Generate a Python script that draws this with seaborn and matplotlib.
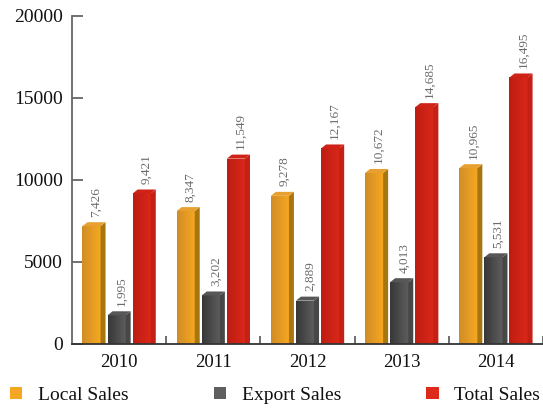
import numpy as np
import pandas as pd
import matplotlib
matplotlib.use("Agg")
import matplotlib.pyplot as plt
from matplotlib.patches import Polygon, Patch
import matplotlib.colors as mcolors
import seaborn as sns

years = ["2010", "2011", "2012", "2013", "2014"]
series = ["Local Sales", "Export Sales", "Total Sales"]
local_sales = [7426, 8347, 9278, 10672, 10965]
export_sales = [1995, 3202, 2889, 4013, 5531]
total_sales = [9421, 11549, 12167, 14685, 16495]
y_ticks = [0, 5000, 10000, 15000, 20000]

legend_colors = ["#F5A623", "#5F5F5F", "#DD2A1B"]
front_left = ["#D18C27", "#383838", "#BE1D12"]
front_right = ["#F7A921", "#5E5E5E", "#DA281A"]
side_colors = ["#A8760F", "#474747", "#C42015"]
top_colors = ["#E8A030", "#575757", "#CF2317"]

df = pd.DataFrame({
    "year": years * 3,
    "series": [s for s in series for _ in years],
    "value": local_sales + export_sales + total_sales,
})

sns.set_theme(style="white")
plt.rcParams["font.family"] = ["Liberation Serif", "DejaVu Serif"]

fig = plt.figure(figsize=(5.43, 4.12), dpi=100)
ax = fig.add_axes([72 / 543, 68 / 412, 471 / 543, 328 / 412])

sns.barplot(data=df, x="year", y="value", hue="series", palette=legend_colors,
            width=0.8, gap=0.08, legend=False, ax=ax, saturation=1, errorbar=None)

ymax = 20000
dx = 5 / 94.0
dy = 4 * ymax / 328.0

for hi, cont in enumerate(ax.containers):
    for patch, val in zip(cont.patches, cont.datavalues):
        x0 = patch.get_x()
        w = patch.get_width()
        v = float(val)
        patch.set_width(w - dx)
        patch.set_height(v - dy)
        patch.set_edgecolor("none")
        patch.set_facecolor(front_right[hi])
        cmap = mcolors.LinearSegmentedColormap.from_list(
            "g", [front_left[hi], front_right[hi]])
        grad = np.linspace(0, 1, 64).reshape(1, -1)
        im = ax.imshow(grad, cmap=cmap, extent=[x0, x0 + w - dx, 0, v - dy],
                       aspect="auto", zorder=2, interpolation="bilinear")
        im.set_clip_path(patch)
        side = Polygon([(x0 + w - dx, 0), (x0 + w, 0), (x0 + w, v),
                        (x0 + w - dx, v - dy)], closed=True,
                       facecolor=side_colors[hi], edgecolor="none", zorder=2)
        ax.add_patch(side)
        top = Polygon([(x0, v - dy), (x0 + dx, v), (x0 + w, v),
                       (x0 + w - dx, v - dy)], closed=True,
                      facecolor=top_colors[hi], edgecolor="none", zorder=2)
        ax.add_patch(top)
        ax.annotate(f"{int(v):,}", xy=(x0 + 0.6 * w, v), xytext=(0, 4),
                    textcoords="offset points", rotation=90, ha="center",
                    va="bottom", fontsize=9.5, color="#6B6B6B",
                    annotation_clip=False)

ax.set_xlim(-0.5, 4.5)
ax.set_ylim(0, ymax)
ax.set_yticks(y_ticks)
ax.set_yticklabels([str(t) for t in y_ticks])
ax.set_xlabel("")
ax.set_ylabel("")

for s in ["top", "right"]:
    ax.spines[s].set_visible(False)
ax.spines["left"].set_color("#666666")
ax.spines["left"].set_linewidth(1.3)
ax.spines["bottom"].set_color("#333333")
ax.spines["bottom"].set_linewidth(1.3)

ax.tick_params(axis="y", direction="in", length=8, width=1.3, color="#666666",
               pad=6.5, labelsize=14, labelcolor="#111111", left=True)
ax.tick_params(axis="x", which="major", length=0, pad=7, labelsize=13.5,
               labelcolor="#111111", bottom=True)
ax.set_xticks(np.arange(0.5, 5, 1.0), minor=True)
ax.tick_params(axis="x", which="minor", direction="in", length=6, width=1.2,
               color="#555555", bottom=True)

handles = [Patch(facecolor=c, edgecolor="none") for c in legend_colors]
fig.legend(handles, series, loc="center left", bbox_to_anchor=(0.018, 0.041),
           ncol=3, frameon=False, fontsize=14, handlelength=0.63,
           handleheight=0.63, handletextpad=0.8, columnspacing=4.4,
           borderpad=0, borderaxespad=0, labelcolor="#111111")

fig.savefig("out.png", dpi=100)
